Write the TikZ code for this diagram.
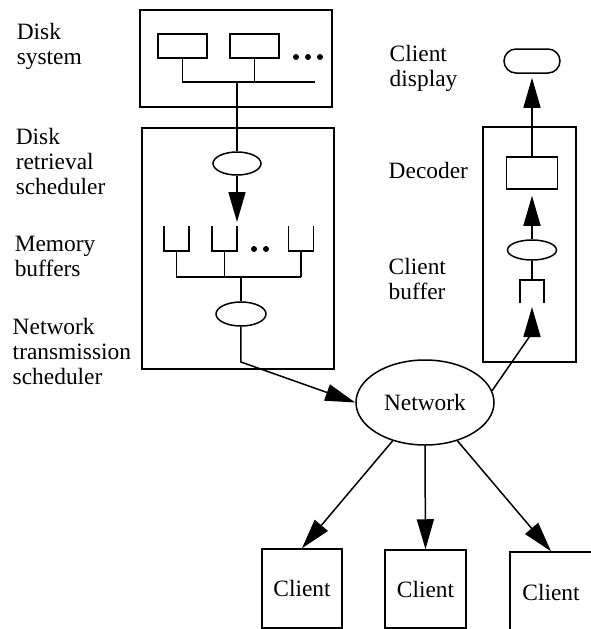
\documentclass[tikz,border=0pt]{standalone}
\usepackage{fontspec}
\setmainfont{Liberation Serif}
\usetikzlibrary{arrows.meta,positioning,shapes.geometric}

\begin{document}
\begin{tikzpicture}[
	x=0.5pt,y=-0.5pt,
	line width=0.75pt,
	every node/.style={font=\fontsize{11.7}{12.5}\selectfont},
	mybox/.style={
		rectangle,
		draw=black,
		inner sep=0pt},
	myellipse/.style={
		ellipse,
		draw=black,
		inner sep=0pt},
	mylabel/.style={
		anchor=north west,
		align=left,
		inner sep=0pt},
	myarrow/.style={-{Triangle[length=15pt,width=8.5pt]}}
	]
	\useasboundingbox (0,0) rectangle (591,629);
	
	% server side
	\node[mybox,minimum width=96pt,minimum height=48.5pt] (dsys) at (236,58.5) {};
	\node[mybox,minimum width=24.5pt,minimum height=12pt] (dsk1) at (182.5,46) {};
	\node[mybox,minimum width=24.5pt,minimum height=12pt] (dsk2) at (254.5,46) {};
	\foreach \x in {296,308,320}
	\fill (\x,57) circle (1.5pt);
	\coordinate (dbusC) at (237,82);
	\coordinate (dbusE) at (315,82);
	\draw (dsk1.south) |- (dbusE);
	\draw (dsk2.south) -- (dsk2.south |- dbusE);
	
	\node[mybox,minimum width=96pt,minimum height=120.5pt] (rsys) at (238,248.5) {};
	\node[myellipse,minimum width=24pt,minimum height=11.5pt] (rsel) at (237,163.5) {};
	\coordinate (bufin) at (237,222);
	\draw (dbusC) -- (rsel.north);
	\draw[myarrow] (rsel.south) -- (bufin);
	
	\coordinate (mbus) at (241,277);
	\foreach \n/\x in {buf1/176.5,buf2/224.5,buf3/301}{
		\coordinate (\n) at (\x,251);
		\draw (\n) ++(-12.5,-25) |- ++(25,25) -- ++(0,-25);
		\draw (\n) -- (\n |- mbus);
	}
	\draw (buf1 |- mbus) -- (buf3 |- mbus);
	\foreach \x in {254,266}
	\fill (\x,249) circle (1.5pt);
	
	\node[myellipse,minimum width=25pt,minimum height=12pt] (tsel) at (241,314) {};
	\draw (mbus) -- (tsel.north);
	
	% network and clients
	\node[myellipse,minimum width=69pt,minimum height=42.5pt] (net) at (425,402.5) {Network};
	\coordinate (tbend) at (241,362);
	\draw[myarrow] (tsel.south) -- (tbend) -- (net.west);
	
	\node[mybox,minimum width=40pt,minimum height=39.5pt] (cl1) at (302,588.5) {Client};
	\node[mybox,minimum width=40.5pt,minimum height=39pt] (cl2) at (425.5,589) {Client};
	\node[mybox,minimum width=41pt,minimum height=40pt] (cl3) at (551,592) {Client};
	\foreach \c in {cl1,cl3}
	\draw[myarrow] (net) -- (\c.north);
	\draw[myarrow] (net.south) -- (cl2.north);
	
	% client side
	\node[mybox,rounded corners=6pt,minimum width=28pt,minimum height=12pt] (cdisp) at (532,61) {};
	\node[mybox,minimum width=46.5pt,minimum height=117.5pt] (csys) at (529.5,244.5) {};
	\node[mybox,minimum width=25.5pt,minimum height=16pt] (dec) at (532,173) {};
	\node[myellipse,minimum width=24.5pt,minimum height=10pt] (cbel) at (532,250) {};
	\coordinate (cbuf) at (532,280);
	\draw (cbuf) ++(-12,23) |- ++(24,-23) -- ++(0,23);
	\draw (cbel.south) -- (cbuf);
	\draw[myarrow,shorten >=2pt] (dec.north) -- (cdisp.south);
	\draw[myarrow,shorten >=3pt] (cbel.north) -- (dec.south);
	\coordinate (cbend) at (532,333);
	\coordinate (cbufin) at (532,307);
	\draw[myarrow] (net.10) -- (cbend) -- (cbufin);
	
	% labels
	\node[mylabel] (lds) at (16,23) {Disk\\system};
	\node[mylabel] (lrs) at (15,128) {Disk\\retrieval\\scheduler};
	\node[mylabel] (lmb) at (14,235) {Memory\\buffers};
	\node[mylabel] (lts) at (12,318) {Network\\transmission\\scheduler};
	\node[mylabel] (lcd) at (389,45) {Client\\display};
	\node[mylabel] (ldec) at (388,162) {Decoder};
	\node[mylabel] (lcb) at (388,258) {Client\\buffer};
	
\end{tikzpicture}
\end{document}
